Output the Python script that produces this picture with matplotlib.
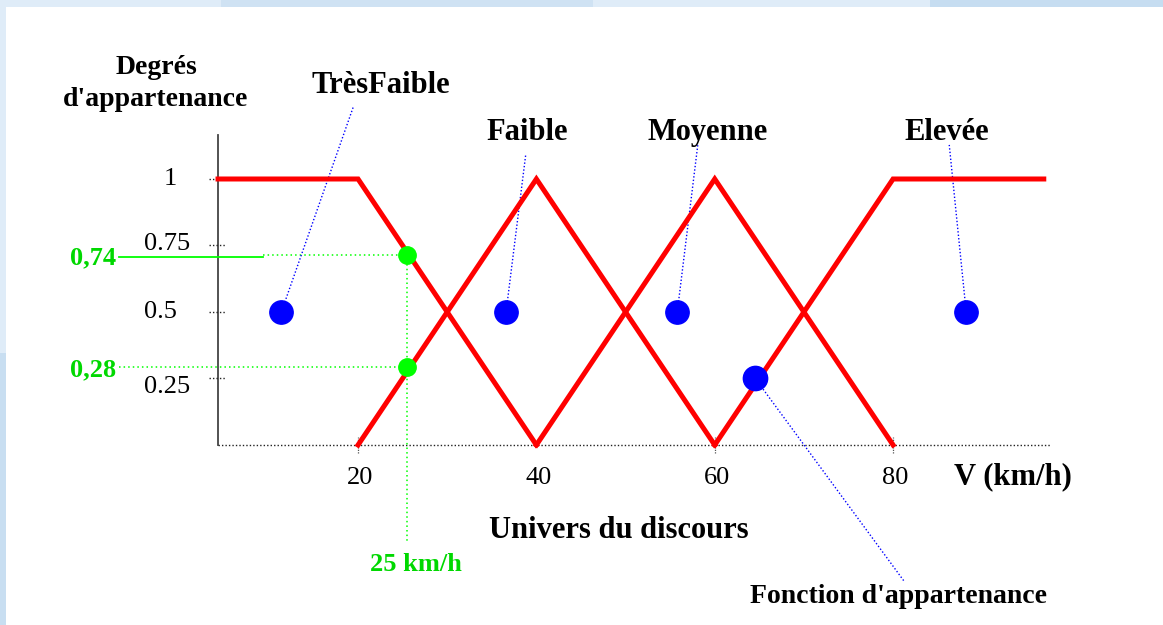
import matplotlib
matplotlib.use("Agg")
import matplotlib.pyplot as plt
from matplotlib.patches import Rectangle

# ---------------- data ----------------
# membership functions (speed in km/h, degree of membership)
tres_faible_x = [4.3, 20, 40]
tres_faible_y = [1, 1, 0]
faible_x = [20, 40, 60]
faible_y = [0, 1, 0]
moyenne_x = [40, 60, 80]
moyenne_y = [0, 1, 0]
elevee_x = [60, 80, 96.9]
elevee_y = [0, 1, 1]

x_ticks = [20, 40, 60, 80]
x_tick_labels = ["20", "40", "60", "80"]
y_ticks = [1, 0.75, 0.5, 0.25]
y_tick_labels = ["1", "0.75", "0.5", "0.25"]

# fuzzified example: v = 25 km/h
example_speed = 25.5
example_degrees = [0.714, 0.293]
example_labels = ["0,74", "0,28"]
example_speed_label = "25 km/h"

# set name callouts: label, label position, dot position, leader top
set_names = ["TrèsFaible", "Faible", "Moyenne", "Elevée"]
set_label_x = [22.5, 38.95, 59.25, 86.05]
set_label_y = [1.353, 1.173, 1.173, 1.173]
set_dot_x = [11.4, 36.6, 55.8, 88.2]
set_dot_y = [0.5, 0.5, 0.5, 0.5]
set_leader_x = [19.5, 38.8, 58.1, 86.3]
set_leader_y = [1.274, 1.09, 1.128, 1.128]

fonction_dot = (64.5, 0.252)
fonction_leader_end = (81.3, -0.515)

RED = "#ff0000"
BLUE = "#0000ff"
GREEN = "#00ff00"
GREEN_TXT = "#00d800"

serif = ["Liberation Serif", "DejaVu Serif"]

fig = plt.figure(figsize=(11.63, 6.25), dpi=100)
fig.patch.set_facecolor("#dfecf8")
# white slide area
fig.patches.append(Rectangle((6 / 1163, 0), 1, 1 - 7 / 625, transform=fig.transFigure,
                             facecolor="white", edgecolor="none", zorder=-5))
fig.patches.append(Rectangle((0, 0), 6 / 1163, 1 - 353 / 625, transform=fig.transFigure,
                             facecolor="#c8def1", edgecolor="none", zorder=-5))
fig.patches.append(Rectangle((0.19, 1 - 7 / 625), 0.32, 7 / 625, transform=fig.transFigure,
                             facecolor="#cfe2f3", edgecolor="none", zorder=-5))
fig.patches.append(Rectangle((0.8, 1 - 7 / 625), 0.2, 7 / 625, transform=fig.transFigure,
                             facecolor="#c6ddf1", edgecolor="none", zorder=-5))

ax = fig.add_axes([0, 0, 1, 1])
ax.set_zorder(1)
ax.set_xlim(-20.15, 110.27)
ax.set_ylim(-0.6767, 1.6729)
ax.axis("off")
ax.patch.set_alpha(0)

# axes
ax.plot([4.3, 4.3], [0, 1.165], color="#444444", lw=1.3, zorder=2)
ax.plot([4.3, 97.6], [0, 0], color="#222222", lw=1.0, ls=(0, (1, 1.5)), zorder=2)
for xt in [20, 60, 80]:
    ax.plot([xt, xt], [-0.03, 0.03], color="#555555", lw=0.9, ls=(0, (1, 1)), zorder=2)

# y ticks (short dotted marks) and labels
for yt, lab in zip(y_ticks, y_tick_labels):
    ax.plot([3.3, 5.2], [yt, yt], color="#222222", lw=1.0, ls=(0, (1, 1.5)), zorder=2)
ax.text(-1.09, 1.0, y_tick_labels[0], ha="center", va="center", fontsize=19, family=serif)
ax.text(-1.43, 0.756, y_tick_labels[1], ha="center", va="center", fontsize=19, family=serif)
ax.text(-2.2, 0.5, y_tick_labels[2], ha="center", va="center", fontsize=19, family=serif)
ax.text(-1.43, 0.218, y_tick_labels[3], ha="center", va="center", fontsize=19, family=serif)

# x tick labels
for xt, lab in zip(x_ticks, x_tick_labels):
    ax.text(xt + 0.2, -0.124, lab, ha="center", va="center", fontsize=19, family=serif)

# membership functions
for xs, ys in [(tres_faible_x, tres_faible_y), (faible_x, faible_y),
               (moyenne_x, moyenne_y), (elevee_x, elevee_y)]:
    ax.plot(xs, ys, color=RED, lw=3.6, solid_joinstyle="miter", zorder=3)

# example at 25 km/h
ax.plot([-6.8, 9.35], [0.707, 0.707], color=GREEN, lw=1.3, zorder=2)
ax.plot([9.35, example_speed], [example_degrees[0], example_degrees[0]], color=GREEN,
        lw=1.1, ls=(0, (1, 2)), zorder=2)
ax.plot([-6.8, example_speed], [example_degrees[1], example_degrees[1]], color=GREEN,
        lw=1.1, ls=(0, (1, 2)), zorder=2)
ax.plot([example_speed, example_speed], [example_degrees[0], -0.368], color=GREEN,
        lw=1.1, ls=(0, (1, 2)), zorder=2)
ax.plot([example_speed] * 2, example_degrees, ls="none", marker="o", ms=12.5,
        color=GREEN, mec=GREEN, zorder=5)
ax.text(-9.72, 0.703, example_labels[0], ha="center", va="center", fontsize=19,
        fontweight="bold", color=GREEN_TXT, family=serif)
ax.text(-9.72, 0.282, example_labels[1], ha="center", va="center", fontsize=19,
        fontweight="bold", color=GREEN_TXT, family=serif)
ax.text(26.5, -0.451, example_speed_label, ha="center", va="center", fontsize=19,
        fontweight="bold", color=GREEN_TXT, family=serif)

# set-name callouts
for name, lx, ly, dx, dy, tx, ty in zip(set_names, set_label_x, set_label_y, set_dot_x,
                                        set_dot_y, set_leader_x, set_leader_y):
    ax.plot([dx, tx], [dy, ty], color=BLUE, lw=1.0, ls=(0, (1, 1.5)), zorder=2)
    ax.plot([dx], [dy], marker="o", ms=16.8, color=BLUE, mec=BLUE, zorder=5)
    ax.text(lx, ly, name, ha="center", va="center", fontsize=22, fontweight="bold",
            family=serif)

# fonction d'appartenance callout
ax.plot([fonction_dot[0], fonction_leader_end[0]], [fonction_dot[1], fonction_leader_end[1]],
        color=BLUE, lw=1.0, ls=(0, (1, 1.5)), zorder=2)
ax.plot([fonction_dot[0]], [fonction_dot[1]], marker="o", ms=17.5, color=BLUE, mec=BLUE, zorder=5)
ax.text(80.6, -0.568, "Fonction d'appartenance", ha="center", va="center", fontsize=20,
        fontweight="bold", family=serif)

# axis titles
ax.text(-2.65, 1.42, "Degrés", ha="center", va="center", fontsize=20, fontweight="bold",
        family=serif)
ax.text(-2.65, 1.30, "d'appartenance", ha="center", va="center", fontsize=20,
        fontweight="bold", family=serif)
ax.text(49.3, -0.32, "Univers du discours", ha="center", va="center", fontsize=22,
        fontweight="bold", family=serif)
ax.text(93.45, -0.12, "V (km/h)", ha="center", va="center", fontsize=22, fontweight="bold",
        family=serif)

fig.savefig("out.png", dpi=100, facecolor=fig.get_facecolor())
